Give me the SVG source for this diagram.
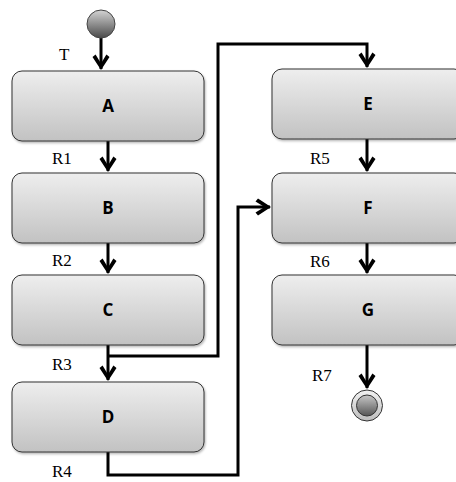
<svg xmlns="http://www.w3.org/2000/svg" width="456" height="482" viewBox="0 0 456 482">
<defs>
<linearGradient id="boxg" x1="0" y1="0" x2="0" y2="1">
<stop offset="0" stop-color="#eeeeee"/>
<stop offset="1" stop-color="#c2c2c2"/>
</linearGradient>
<linearGradient id="startg" x1="0" y1="0" x2="0" y2="1">
<stop offset="0" stop-color="#d4d4d4"/>
<stop offset="1" stop-color="#4a4a4a"/>
</linearGradient>
<linearGradient id="ringg" x1="0" y1="0" x2="0" y2="1">
<stop offset="0" stop-color="#f2f2f2"/>
<stop offset="1" stop-color="#bdbdbd"/>
</linearGradient>
<linearGradient id="innerg" x1="0" y1="0" x2="0" y2="1">
<stop offset="0" stop-color="#c8c8c8"/>
<stop offset="1" stop-color="#555555"/>
</linearGradient>
<filter id="sh" x="-10%" y="-10%" width="120%" height="130%">
<feDropShadow dx="1" dy="1.5" stdDeviation="1" flood-color="#000" flood-opacity="0.3"/>
</filter>
<marker id="arr" markerUnits="userSpaceOnUse" orient="auto" markerWidth="20" markerHeight="20" refX="0" refY="0" overflow="visible">
<polygon points="1,0 -12,-8.5 -14.5,-5.4 -5.5,0 -14.5,5.4 -12,8.5" fill="#000"/>
</marker>
</defs>
<style>
.box{fill:url(#boxg);stroke:#333;stroke-width:1;filter:url(#sh)}
.lbl{font-family:"Open Sans","Liberation Sans",sans-serif;font-weight:700;font-size:17px;text-anchor:middle;fill:#000}
.cl{font-family:"Liberation Serif","DejaVu Serif",serif;font-size:17px;fill:#000}
.ln{fill:none;stroke:#000;stroke-width:3;stroke-linejoin:miter}
.ar{marker-end:url(#arr)}
</style>
<g id="connectors">
<path class="ln ar" d="M101,38 V69"/>
<path class="ln ar" d="M108,141 V171"/>
<path class="ln ar" d="M108,243 V273"/>
<path class="ln ar" d="M108,345 V380"/>
<path class="ln ar" d="M108,356 H218 V44 H367 V67"/>
<path class="ln ar" d="M108,452 V475 H238 V207 H270"/>
<path class="ln ar" d="M367,139 V171"/>
<path class="ln ar" d="M367,243 V273"/>
<path class="ln ar" d="M367,345 V388"/>
<text class="cl" x="59" y="60">T</text>
<text class="cl" x="52" y="164">R1</text>
<text class="cl" x="52" y="266">R2</text>
<text class="cl" x="52" y="370">R3</text>
<text class="cl" x="52" y="477">R4</text>
<text class="cl" x="310" y="164">R5</text>
<text class="cl" x="310" y="267">R6</text>
<text class="cl" x="312" y="381">R7</text>
</g>
<g id="start"><circle cx="101" cy="24" r="14" fill="url(#startg)" stroke="#444" stroke-width="1"/></g>
<g id="A"><rect class="box" x="12" y="71" width="192" height="70" rx="10"/><text class="lbl" x="108" y="112">A</text></g>
<g id="B"><rect class="box" x="12" y="173" width="192" height="70" rx="10"/><text class="lbl" x="108" y="214">B</text></g>
<g id="C"><rect class="box" x="12" y="275" width="192" height="70" rx="10"/><text class="lbl" x="108" y="316">C</text></g>
<g id="D"><rect class="box" x="12" y="382" width="192" height="70" rx="10"/><text class="lbl" x="108" y="423">D</text></g>
<g id="E"><rect class="box" x="272" y="69" width="192" height="70" rx="10"/><text class="lbl" x="368" y="110">E</text></g>
<g id="F"><rect class="box" x="272" y="173" width="192" height="70" rx="10"/><text class="lbl" x="368" y="214">F</text></g>
<g id="G"><rect class="box" x="272" y="275" width="192" height="70" rx="10"/><text class="lbl" x="368" y="316">G</text></g>
<g id="end"><circle cx="367" cy="405.5" r="15.5" fill="url(#ringg)" stroke="#333" stroke-width="1"/><circle cx="367" cy="405.5" r="10.5" fill="url(#innerg)" stroke="#333" stroke-width="1"/></g>
</svg>
